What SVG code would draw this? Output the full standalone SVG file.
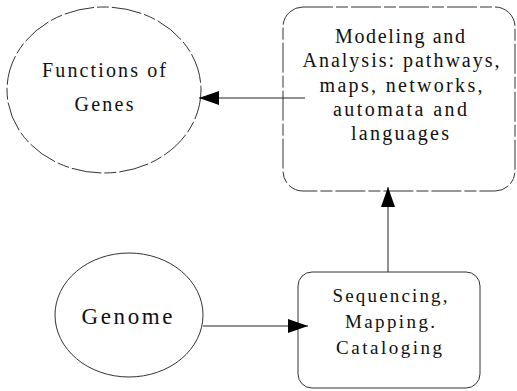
<svg xmlns="http://www.w3.org/2000/svg" width="517" height="391" viewBox="0 0 517 391">
<defs>
<marker id="ah" viewBox="0 0 20 14" refX="20" refY="7" markerWidth="20" markerHeight="14" markerUnits="userSpaceOnUse" orient="auto">
<path d="M0,0 L20,7 L0,14 Z" fill="#000"/>
</marker>
</defs>
<style>
text{font-family:"Liberation Serif","Times New Roman",serif;fill:#111;text-anchor:middle}
.t{font-size:20px}
.s{font-size:19px}
.big{font-size:23px}
.dash{fill:#fff;stroke:#333;stroke-width:1;stroke-dasharray:30 3 12 3}
.solid{fill:#fff;stroke:#333;stroke-width:1}
.edge{stroke:#222;stroke-width:1;fill:none}
</style>
<rect width="517" height="391" fill="#fff"/>
<g id="functions">
<ellipse class="dash" cx="104" cy="90" rx="97" ry="83"/>
<text class="t" x="104" y="77" textLength="124" lengthAdjust="spacing">Functions of</text>
<text class="t" x="104" y="111" textLength="59" lengthAdjust="spacing">Genes</text>
</g>
<g id="modeling">
<rect class="dash" x="283" y="7" width="232" height="184" rx="20" ry="20"/>
<text class="t" x="400" y="43" textLength="130" lengthAdjust="spacing">Modeling and</text>
<text class="t" x="401" y="67" textLength="197" lengthAdjust="spacing">Analysis: pathways,</text>
<text class="t" x="401" y="92" textLength="163" lengthAdjust="spacing">maps, networks,</text>
<text class="t" x="400" y="116" textLength="134" lengthAdjust="spacing">automata and</text>
<text class="t" x="400" y="140" textLength="98" lengthAdjust="spacing">languages</text>
</g>
<g id="genome">
<ellipse class="solid" cx="129" cy="315" rx="74" ry="62"/>
<text class="big" x="127" y="324" textLength="91" lengthAdjust="spacing">Genome</text>
</g>
<g id="sequencing">
<rect class="solid" x="298" y="272" width="182" height="116" rx="14" ry="14"/>
<text class="s" x="390" y="302" textLength="115" lengthAdjust="spacing">Sequencing,</text>
<text class="s" x="390" y="328" textLength="90" lengthAdjust="spacing">Mapping.</text>
<text class="s" x="389" y="354" textLength="106" lengthAdjust="spacing">Cataloging</text>
</g>
<g id="connectors">
<line class="edge" x1="305" y1="98" x2="199" y2="98" marker-end="url(#ah)"/>
<line class="edge" x1="203" y1="326" x2="308" y2="326" marker-end="url(#ah)"/>
<line class="edge" x1="388" y1="272" x2="388" y2="187" marker-end="url(#ah)"/>
</g>
</svg>
